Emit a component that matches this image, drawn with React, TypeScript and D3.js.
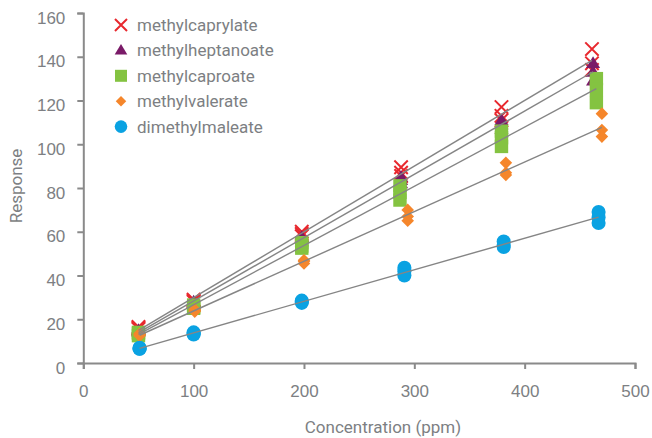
import React, {Component} from 'react';
import * as d3 from "d3"

// concentrations (ppm) and replicate responses per compound
const caprylateConc = [50, 100, 198, 288, 379, 461]
const caprylateResp = [[16.5, 16, 15.5], [29, 28.5, 28], [60, 59, 58], [89.5, 87, 85.5], [117, 113, 111], [143.5, 137, 134]]

const heptanoateConc = [50, 100, 198, 288, 379, 462]
const heptanoateResp = [[15, 14.5, 14], [28, 27.5, 27], [57.5, 56.5, 55.5], [85, 83.5, 82], [111, 109, 107], [137, 133, 129]]

const caproateConc = [50, 100, 198, 287, 379, 465]
const caproateResp = [[14, 13.5, 12.5], [26.5, 25.5, 25], [55, 53.5, 52.5], [81, 78, 74.5], [106, 103, 99], [130, 125, 119]]

const valerateConc = [51, 101, 200, 294, 383, 470]
const valerateResp = [[13.5, 13, 12.5], [24.5, 24, 23.5], [47, 46.5, 45.5], [70, 67, 65], [91.5, 87, 86], [114, 106.5, 103.5]]

const maleateConc = [51, 100, 198, 291, 381, 467]
const maleateResp = [[7, 6.5, 6.5], [14, 13.5, 13], [28.5, 28, 27.5], [43.5, 42, 40], [55.5, 54, 53], [69, 66.5, 64]]

const seriesNames = ["methylcaprylate", "methylheptanoate", "methylcaproate", "methylvalerate", "dimethylmaleate"]
const seriesColors = ["#e8282e", "#7a1b68", "#84c341", "#f5862b", "#0aa2e2"]
const xTicks = [0, 100, 200, 300, 400, 500]
const yTicks = [0, 20, 40, 60, 80, 100, 120, 140, 160]

interface ChartProps {}
interface ChartState {}

class App extends Component<ChartProps, ChartState> {
  public constructor(props: ChartProps) {
    super(props)
  }

  renderChart() {
    const width = 652
    const height = 438
    const textColor = "#7d7f83"
    const axisColor = "#8a8a8a"
    const fontSize = 17

    const root = d3.select("#ResponseChart")
    root.selectAll("*").remove()
    const svg = root.append("svg").attr("width", width).attr("height", height)
      .style("font-family", "Roboto, 'Noto Sans', sans-serif")

    let x = d3.scaleLinear().domain([0, 500]).range([83.3, 635])
    let y = d3.scaleLinear().domain([0, 160]).range([363, 13])

    // flatten replicates into points
    const allConc = [caprylateConc, heptanoateConc, caproateConc, valerateConc, maleateConc]
    const allResp = [caprylateResp, heptanoateResp, caproateResp, valerateResp, maleateResp]
    const series = allConc.map((conc, i) => {
      const pts: {x: number, y: number}[] = []
      conc.forEach((c, j) => allResp[i][j].forEach(r => pts.push({x: c, y: r})))
      return pts
    })

    // marker shapes
    const drawMarker = (g: any, kind: number, color: string, s: number) => {
      if (kind === 0) {
        g.append("path").attr("d", `M${-s},${-s}L${s},${s}M${-s},${s}L${s},${-s}`)
          .attr("stroke", color).attr("stroke-width", 2).attr("fill", "none")
      } else if (kind === 1) {
        const h = s * 1.75
        g.append("path").attr("d", `M0,${-h * 0.6}L${s * 1.05},${h * 0.4}L${-s * 1.05},${h * 0.4}Z`).attr("fill", color)
      } else if (kind === 2) {
        g.append("rect").attr("x", -s).attr("y", -s).attr("width", 2 * s).attr("height", 2 * s).attr("fill", color)
      } else if (kind === 3) {
        const d = s * 1.05
        g.append("path").attr("d", `M0,${-d}L${d},0L0,${d}L${-d},0Z`).attr("fill", color)
      } else {
        g.append("circle").attr("r", s * 1.05).attr("fill", color)
      }
    }

    // points
    series.forEach((pts, i) => {
      const grp = svg.append("g")
      pts.forEach(p => {
        const m = grp.append("g").attr("transform", `translate(${x(p.x)},${y(p.y)})`)
        drawMarker(m, i, seriesColors[i], i === 3 ? 6 : 6.7)
      })
    })

    // least squares fit lines over the data range
    series.forEach(pts => {
      const mx = d3.mean(pts, d => d.x) as number
      const my = d3.mean(pts, d => d.y) as number
      const sxy = d3.sum(pts, d => (d.x - mx) * (d.y - my))
      const sxx = d3.sum(pts, d => (d.x - mx) * (d.x - mx))
      const slope = sxy / sxx
      const icpt = my - slope * mx
      const ext = d3.extent(pts, d => d.x) as [number, number]
      svg.append("line")
        .attr("x1", x(ext[0])).attr("y1", y(icpt + slope * ext[0]))
        .attr("x2", x(ext[1])).attr("y2", y(icpt + slope * ext[1]))
        .attr("stroke", "#858585").attr("stroke-width", 1.4)
    })

    // axes
    let xAxis = (g: any) => g
      .attr("transform", `translate(0,${y(0)})`)
      .call(d3.axisBottom(x).tickValues(xTicks).tickSize(6).tickPadding(16))
      .call((g: any) => g.selectAll("path, line").attr("stroke", axisColor).attr("stroke-width", 2))
      .call((g: any) => g.selectAll("text").attr("fill", textColor).attr("font-size", fontSize))

    let yAxis = (g: any) => g
      .attr("transform", `translate(${x(0)},0)`)
      .call(d3.axisLeft(y).tickValues(yTicks).tickSize(6).tickPadding(12))
      .call((g: any) => g.selectAll("path, line").attr("stroke", axisColor).attr("stroke-width", 2))
      .call((g: any) => g.selectAll("text").attr("fill", textColor).attr("font-size", fontSize).attr("dy", "0.6em"))

    svg.append("g").call(xAxis)
    svg.append("g").call(yAxis)

    // axis titles
    svg.append("text")
      .attr("x", 383).attr("y", 433)
      .attr("text-anchor", "middle").attr("fill", textColor).attr("font-size", fontSize)
      .text("Concentration (ppm)")
    svg.append("text")
      .attr("transform", `translate(22,186) rotate(-90)`)
      .attr("text-anchor", "middle").attr("fill", textColor).attr("font-size", fontSize)
      .text("Response")

    // legend
    const legend = svg.append("g")
    seriesNames.forEach((name, i) => {
      const row = legend.append("g").attr("transform", `translate(121,${25 + i * 25.4})`)
      drawMarker(row, i, seriesColors[i], i === 3 ? 5 : 6)
      row.append("text").attr("x", 16).attr("dy", "0.35em")
        .attr("fill", textColor).attr("font-size", fontSize).text(name)
    })
  }

  componentDidMount() {
    this.renderChart()
  }

  public render(): JSX.Element {
    return (
      <div
        id='ResponseChart'
        style={{position: "absolute", left: 0, top: 0, width: 652, height: 438, background: "#fff"}}
      >
      </div>
    )
  }
}
export default App;
